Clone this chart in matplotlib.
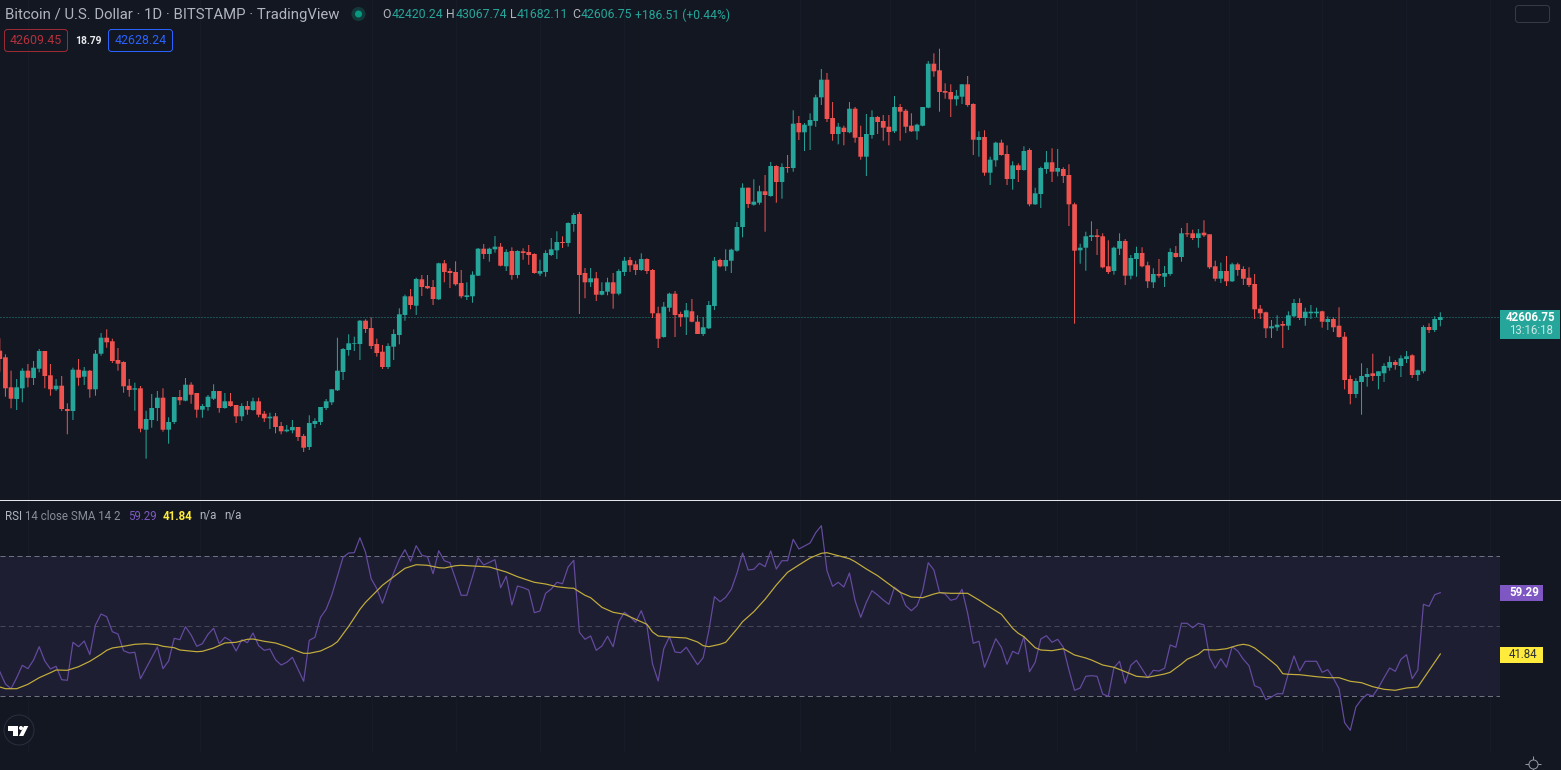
#!/usr/bin/env python3
"""BTC/USD daily candles with an RSI pane, dark theme."""

import numpy as np
import matplotlib
matplotlib.use("Agg")
import matplotlib.pyplot as plt
from matplotlib.patches import FancyBboxPatch, Rectangle, Circle, Polygon

plt.rcParams["font.family"] = ["Roboto", "DejaVu Sans"]

# candles were read as heights on the picture (row numbers), then turned into
# USD with the one price we know for sure (last close) and a rough USD/row
LAST_CLOSE = 42606.75
LAST_ROW = 317.0
USD_PER_ROW = 96.0

direction = ("rrrggrggrr" "grrgrgrggr" "rrrrgrgggr" "ggrgrrgggr" "grrgrgrrgr"
             "rggrrggggg" "gggggrrrrg" "gggrgrrrgr" "rrrgggrggr" "grgrrrgggg"
             "rggrrgrggr" "ggrrgrrrgg" "rrgrrgggrg" "gggrggrgrg" "rgrggggrrg"
             "rgrrggrrrg" "rrrgggrrrr" "ggrrgrggrr" "grgrgggrgr" "rrgggrrrgg"
             "rggrrgrggr" "grrgrrrgrg" "rrrrrrggrg" "grgggrgrrr" "rgggrgggrg"
             "grggrgg")

body_top = [
    350.7, 357.3, 387.3, 387.3, 370.7, 370.7, 367.7, 351, 351, 375.3,
    385.7, 385.7, 409, 369.7, 369.7, 370.7, 370.7, 353.7, 337.7, 337.7,
    341.3, 360, 362, 385.7, 388.3, 388.3, 419, 408, 397.7, 397.7,
    422, 397, 397, 384.7, 384.7, 393, 406, 396.7, 391, 391,
    401.3, 401.3, 405, 406, 406, 401.3, 401.3, 413.7, 416.7, 416.3,
    426, 429.7, 427, 427, 436, 423, 421, 407, 401.3, 389.3,
    370.7, 349, 343.3, 343.3, 320.7, 320.7, 328, 344, 351.7, 346,
    334, 314.3, 296.3, 296.3, 279, 279.3, 286, 287, 263.3, 263.3,
    271, 272, 283, 295.3, 274.7, 248.7, 248.7, 248.7, 246.7, 246.7,
    252, 251, 251, 251.3, 252, 254, 271, 253, 249.3, 242,
    242, 223, 215, 214, 273, 278.3, 278.3, 291, 282.3, 282.3,
    271, 260.7, 260, 264.3, 259, 259, 270, 313.3, 306.7, 293.7,
    293.7, 314, 310.3, 311.3, 321.7, 327.3, 305, 260.7, 260, 260,
    249.7, 227, 187.7, 187.7, 201.7, 191.3, 191.3, 166, 166, 167,
    167, 123.7, 123, 124.7, 120, 97.3, 79.7, 79.7, 118, 126.7,
    127.7, 108.7, 108.7, 137, 134, 117, 117, 121, 126.7, 107,
    107, 110.7, 125.7, 124.7, 107, 63.7, 63.7, 70.3, 91, 92,
    95.7, 84.3, 84.3, 104, 137, 137, 159.7, 142.7, 142.7, 154,
    165.3, 165.3, 151, 150, 193.3, 168, 162.3, 162.3, 168, 169,
    175, 204.3, 247.7, 236.3, 235.3, 235.3, 236.3, 266.3, 247.7, 241,
    241, 258, 253, 253, 265.3, 274, 274, 273, 252, 253,
    233.3, 233.3, 233.3, 233.3, 232.7, 234.3, 266.3, 271, 271, 264.3,
    264.3, 269, 277.7, 284, 308.7, 312.3, 326.3, 324.7, 324, 315.3,
    303, 303, 311.7, 311.7, 311.7, 311.3, 319, 319, 325.7, 336.7,
    379, 381, 376, 374, 373.3, 371.3, 366, 362, 362, 358.3,
    356.3, 355.3, 370.3, 327, 327, 319, 317,
]
body_bottom = [
    359, 388.3, 398.7, 399, 388.3, 377.7, 378, 368.7, 376, 389.3,
    389.3, 409, 411, 411, 377.7, 376.7, 389.3, 389.3, 353.7, 342.3,
    361, 363.7, 386.3, 390, 389.7, 428.7, 429.7, 420, 408, 429.7,
    429.7, 422, 400.3, 400.7, 394.7, 409.7, 409.7, 407, 398.7, 408,
    408, 406, 416.3, 416.3, 409.7, 410, 414.7, 418.3, 418.3, 427,
    431.3, 431.3, 430.3, 437, 447.7, 447, 424, 422, 408, 402.3,
    390.3, 372, 350, 344, 344, 329, 346, 353, 367, 367,
    346.7, 335, 315, 305, 305.7, 287, 288.3, 299, 299.3, 272,
    273, 284.3, 296.3, 297, 296.3, 275.7, 254, 254, 249.3, 265.7,
    266.3, 275, 275, 253, 255, 273, 273.7, 272, 255, 250.3,
    243, 243, 224, 275, 282.3, 282.3, 294.7, 294.7, 291.7, 293.7,
    293.7, 272, 265.3, 270, 270, 271, 313.3, 338.7, 337, 307.7,
    315, 317, 317, 321.7, 334, 334, 328.3, 306, 266.3, 266.3,
    260.7, 250.7, 227, 204, 204.7, 202.7, 195, 196, 182, 182,
    168, 168, 132.3, 132.3, 125.7, 121, 97.3, 119, 134, 134,
    132, 132.3, 137.7, 156.7, 156.7, 135, 122, 127.7, 132, 131.3,
    111.7, 126.7, 131.3, 131.3, 125.7, 107.7, 71.3, 92, 92.7, 99.3,
    99.3, 96.7, 105, 139.7, 140, 172.7, 172.7, 160.3, 155, 179,
    179, 170, 170, 204.3, 204.3, 194, 169, 171.7, 171.7, 176,
    204.3, 250.7, 250.3, 247.7, 237, 237, 267.3, 272, 271, 248.7,
    275.7, 275.7, 259, 266.3, 281.3, 282.3, 275.7, 276.7, 274, 257,
    257, 234.3, 238, 238, 235.3, 267.3, 278.7, 278.7, 281.3, 281.3,
    270, 278.7, 285, 309.3, 313.3, 328.3, 328.3, 327.3, 325.7, 325.7,
    316.3, 318, 318, 313.3, 313.3, 321.7, 322, 327.3, 337, 380,
    394, 394, 382, 377, 376, 376, 373.3, 367.7, 365, 366,
    359, 375, 375, 371.3, 330, 330, 320,
]
wick_top = [
    338.3, 354.3, 370.7, 379, 368.3, 364, 361, 349, 351, 364,
    379, 376, 403.3, 367.7, 359, 367, 370, 350, 333, 329.3,
    338.7, 348, 361.3, 379, 382.7, 386, 410.7, 394, 391, 388.3,
    417.3, 397, 390, 378, 382.3, 393, 404, 395, 384.3, 391,
    393, 393, 405, 403.3, 401, 397.7, 397.7, 411, 412.7, 413,
    422, 425, 420, 427, 434, 415.3, 418.3, 407, 399, 389.3,
    337.7, 348, 334.3, 336.7, 320, 319.3, 317.3, 338.7, 345, 343.3,
    329.3, 308.3, 294.7, 289, 277.7, 275, 275, 280, 262.7, 260,
    268.3, 261.3, 270, 282.3, 271.3, 248, 244, 247.7, 236, 243,
    249.3, 247.3, 250.3, 248.3, 245, 253.3, 259.7, 250.3, 238, 231.3,
    236.3, 222.3, 213, 212, 268, 268, 272, 282.3, 277.7, 273,
    269.3, 257, 257, 260.7, 253.3, 258.3, 269, 306.7, 302, 292.7,
    291, 311.7, 303, 299, 315.3, 317, 301, 257, 258.7, 249.3,
    248.7, 222, 183.3, 187.7, 179.3, 185.7, 175, 162, 165.3, 163.3,
    155, 110.3, 116, 123, 113.3, 94.7, 69, 73, 102, 123,
    125.7, 102, 107, 125.7, 114, 110.3, 116, 115, 115, 96,
    104, 109, 113.3, 123.7, 107, 61, 53.3, 48.7, 83.3, 84.3,
    90, 84.3, 76, 103.3, 131.3, 130.3, 156.7, 141.7, 139.7, 145.3,
    161.3, 163.3, 146.3, 148.3, 187.7, 166.7, 151, 148.3, 149, 167.3,
    164.3, 202.7, 243.7, 231.7, 221.3, 229, 233.3, 240.3, 246.7, 233.3,
    239, 255, 246.7, 247.3, 261.7, 268.3, 259, 266, 248.3, 246,
    228, 223, 229.7, 229, 220.3, 234.3, 260.7, 262.7, 256, 262.7,
    262.7, 266.3, 267.3, 274, 305, 311.7, 320, 315.3, 321, 311.3,
    299, 298.3, 307.7, 305, 307.7, 310.7, 316.3, 317.3, 307.3, 332,
    375.3, 378.3, 363.3, 368, 353.7, 371.3, 363.3, 356.3, 360, 355.3,
    351, 354.3, 369.7, 325.3, 323.3, 316.3, 312.3,
]
wick_bottom = [
    371.7, 396.7, 408.3, 410, 402.3, 387.3, 385, 372.3, 388.3, 395.7,
    391, 411, 434.3, 420, 385.7, 385, 397.7, 395.7, 355.7, 347.7,
    363, 370.7, 392.7, 396.7, 410.7, 432.3, 458.7, 427.7, 421, 431.7,
    443.7, 424, 405, 401.3, 403.7, 417.7, 417.7, 410.7, 400, 412.7,
    408.7, 406.7, 423, 421, 414.7, 410.7, 417.3, 422, 429, 433.3,
    434.3, 432.3, 433.3, 441, 452, 450, 428, 425, 410, 405,
    391, 380, 355.7, 351, 360, 333, 349, 356.7, 369, 369,
    360, 344.3, 320.7, 309.3, 315, 296, 289, 305, 300, 282.3,
    288, 285.7, 298.3, 300, 302.7, 276, 259, 261.7, 252.7, 266.3,
    271, 279.7, 278.3, 259.7, 264.7, 273.7, 276, 276.7, 256, 259,
    248, 246.7, 231.7, 314, 298.3, 287, 301, 295.3, 295.3, 308.7,
    295.3, 276, 272, 275, 271, 274, 318, 348, 337.7, 311.7,
    337, 326.7, 335, 322.3, 334, 336, 329, 310, 267.3, 271,
    273, 251.7, 237.3, 208, 205.7, 204.7, 231.7, 196.7, 202.7, 198.7,
    172.7, 171.7, 140, 151, 150, 126.7, 105, 122, 140.7, 144.3,
    145.3, 133.3, 142.7, 159.7, 176, 138.7, 134, 140.7, 145.3, 133,
    140.7, 133, 132, 139.7, 126.3, 108.3, 76.7, 111.7, 98.7, 117,
    105.7, 104, 106.7, 155, 156.7, 175.7, 185, 166.7, 155.7, 185,
    189.7, 182, 170.7, 206.3, 205, 208, 173.7, 182, 176.3, 183,
    226, 323.7, 263.7, 270.7, 241, 255, 268.3, 274, 274.7, 255,
    285, 279.3, 276.7, 267.3, 288, 288, 277.7, 287, 275.7, 257.7,
    261.7, 237, 240, 247.7, 237, 269, 281.3, 283, 286, 282,
    275.7, 285, 287, 319, 319, 338, 338, 331, 348, 330,
    317.3, 320, 325.7, 319, 317.3, 327.7, 330, 332, 337.7, 389.3,
    404.3, 398, 414.7, 386.7, 381, 389.3, 382, 370.7, 369.7, 377,
    363, 378, 381, 373.3, 333, 332, 326.3,
]

# RSI line, one reading per candle (row numbers again)
rsi_rows = [
    671.7, 684, 688.7, 677.7, 665.3, 668.7, 660, 646.7, 661, 669,
    666.3, 679.7, 680.3, 642.3, 646.7, 641, 654.7, 625, 614, 616.7,
    631.7, 634, 650.7, 653, 652.3, 678.7, 668.3, 657.7, 647, 668.7,
    661, 638.3, 639.7, 626.7, 635, 646.3, 643.7, 634.3, 628.3, 643.7,
    637.3, 640.7, 651, 639.7, 642.7, 633, 645.7, 650.3, 649, 659.7,
    665, 662.3, 657.3, 669.3, 681.3, 640.3, 637.3, 617.3, 609.3, 595,
    576, 557.3, 553, 552.7, 537.7, 552.3, 578.7, 588.7, 603.3, 587.3,
    573, 559.3, 549.7, 561.3, 545.7, 555.3, 556.7, 573.7, 550.7, 560.7,
    562.7, 579, 595.3, 595.3, 576.7, 557.7, 565, 562.3, 559.7, 587.7,
    576.3, 605, 586,
    587.7, 590, 612.7, 611, 593.3, 589, 582.3, 583.7, 567, 560.3,
    632.3, 639.3, 636, 650.3, 646, 636.3, 646.7, 621.7, 612.3, 616.7,
    622.3, 610.7, 625.7, 664, 681, 648.7, 636.7, 652, 652.7, 647.3,
    656, 664.7, 657.7, 630.7, 596.7, 601.7, 597.3, 589.3, 573.3, 553,
    570, 569.3, 563.3, 566.7, 551, 569, 560.7, 560.7, 539.3, 549,
    546, 543, 532.7, 525.7, 570.7, 586.3, 582.3, 587, 573, 600.7,
    617.3, 602.3, 590.7, 595, 600, 604.3, 587.3, 591.7, 605.7, 610.7,
    605.7, 591, 562.7, 570, 592.3, 594, 600.3, 598.7, 589.3, 613.3,
    643.3, 641.3, 667.3, 653.3, 638.7, 647.3,
    664.3, 651.3, 654, 636.7, 671.7, 662.3, 639, 635.7, 642.3, 639.3,
    647.3, 670, 690.3, 688, 676.3, 675.7, 676.3, 694, 696.3, 667.7,
    661.3, 683.3, 665.3, 660.3, 669, 677.7, 670.3, 671, 668.3, 645,
    647.3, 623.3, 623.3, 627.7, 623.3, 625, 657.7, 668.3, 658.7, 667.3,
    646.7, 651, 659.3, 665.7, 685.7, 688, 699.7, 697, 693.7, 693.7,
    673.3, 656, 671, 661.3, 661.3, 661.3, 672.3, 669.7, 678.3, 688.7,
    722.7, 730.3, 707, 699.3, 694.3, 696, 687.7, 677.7, 668, 671.3,
    659.3, 654.7, 678.7, 670, 604.3, 606.3, 594.7, 592.7,
]

# SMA line, read at the bends only
sma_index = [
    0, 1, 3, 5, 7, 9, 10, 12, 14, 16, 18, 19, 20, 22, 24, 26, 28, 29, 31, 32,
    35, 36, 38, 40, 42, 44, 45, 47, 49, 51, 53, 54, 55, 57, 59, 60, 62, 64, 65,
    68, 70, 72, 74, 76, 78, 79, 81, 82, 84, 86, 87, 88,
    90, 92, 95, 97, 99, 101, 102, 104, 105, 107, 109, 111, 113, 115, 116, 117,
    119, 122, 124, 125, 126, 128, 129, 131, 132, 134, 136, 138, 140, 142, 144,
    146, 147, 149, 151, 152, 154, 156, 158, 160, 162, 164, 166, 167, 169, 171,
    172, 174, 176, 178, 180, 181,
    182, 184, 185, 187, 189, 191, 193, 194, 196, 198, 200, 202, 204, 207, 208,
    210, 211, 213, 214, 216, 218, 220, 221, 222, 223, 225, 227, 228, 229, 231,
    234, 236, 238, 240, 242, 244, 246, 248, 250, 252, 256,
]
sma_rows = [
    687, 688.7, 688.7, 684.3, 677.7, 672.7, 670, 670.3, 666.7, 661.3, 654.3,
    650.3, 648, 646.3, 644.3, 643.7, 644.7, 646.3, 647.7, 650,
    651.7, 651.3, 648, 643, 642.3, 639.3, 639, 641.3, 643, 646.7, 651.3, 653.3,
    653.3, 651, 645.7, 641.7, 626.3, 609.3, 602.3,
    585.3, 576.7, 568.3, 564.7, 565.3, 567.7, 568, 565.7, 565.3, 566, 566.7,
    567, 568.7,
    572, 576.7, 582.3, 584, 586.7, 588, 588.3, 595.3, 597.7, 607.3, 612.3,
    614.3, 619.3, 624.3, 632, 636,
    637, 638, 642, 645.7, 646.7, 644.3, 642.3, 629, 621.7, 611.7, 599.3, 585,
    572.3, 565, 558,
    553.3, 552.7, 555.7, 558.7, 561.7, 569, 575.7, 584, 592.3, 597, 597.7, 594,
    592.7, 593.3, 593.3,
    593.3, 600, 607.3, 614.3, 628.3, 633.3,
    636.7, 647.7, 650, 650.7, 648.7, 655, 658, 660, 665, 667.3, 671.7, 676.3,
    677.3, 674, 672.3,
    664, 659.3, 654.3, 649.7, 650, 648.7, 645.3, 644.3, 645.3, 648, 656.7, 666,
    673.7, 674.3, 674.7,
    676.7, 677.7, 677.7, 681.3, 682.7, 686.7, 689.3, 690.3, 688, 687, 654,
]

rsi_levels = [30, 50, 70]
grid_px = [28, 200, 372, 456, 540, 624, 800, 890, 975, 1057, 1136, 1229, 1322, 1406, 1490]

BG = "#131722"
UP = "#26a69a"
DOWN = "#ef5350"
PX = 0.72  # 1 px in points at dpi 100
CANDLE_STEP = 5.627


def row_to_price(rows):
    return LAST_CLOSE + (LAST_ROW - np.asarray(rows, dtype=float)) * USD_PER_ROW


def row_to_rsi(rows):
    return 50 + (626.0 - np.asarray(rows, dtype=float)) * 20 / 70.3


x = np.arange(len(direction))
is_up = np.array([d == "g" for d in direction])
colors = np.where(is_up, UP, DOWN)

fig = plt.figure(figsize=(15.61, 7.70), dpi=100, facecolor=BG)
W, H = 1561.0, 770.0
xlim = (0.2 / CANDLE_STEP, 1500.2 / CANDLE_STEP)

# ── price pane ──
ax = fig.add_axes([0, 270 / H, 1500 / W, 500 / H], facecolor=BG)
ax.set_xlim(*xlim)
ax.set_ylim(row_to_price(500), row_to_price(0))
ax.axis("off")
for g in grid_px:
    ax.axvline((g + 0.2) / CANDLE_STEP, color="#171b27", lw=PX, zorder=0)
ax.axhline(LAST_CLOSE, color=UP, lw=PX, ls=(0, (1, 2)), alpha=0.8, zorder=1)

top = row_to_price(body_top)
bottom = row_to_price(body_bottom)
wicks = ax.vlines(x, row_to_price(wick_bottom), row_to_price(wick_top),
                  colors=colors, lw=PX, zorder=2)
wicks.set_snap(False)
bars = ax.bar(x, top - bottom, bottom=bottom, width=0.84, color=colors, linewidth=0, zorder=3)
for b in bars:
    b.set_snap(False)

# ── RSI pane ──
ax2 = fig.add_axes([0, 0, 1500 / W, 270 / H], facecolor=BG)
ax2.set_xlim(*xlim)
ax2.set_ylim(row_to_rsi(770), row_to_rsi(500))
ax2.axis("off")
for g in grid_px:
    ax2.plot([(g + 0.2) / CANDLE_STEP] * 2, [row_to_rsi(751), row_to_rsi(500)],
             color="#171b27", lw=PX, zorder=0)
ax2.axhspan(rsi_levels[0], rsi_levels[2], facecolor="#1e1e33", edgecolor="none", zorder=1)
ax2.axhline(rsi_levels[0], color="#6f7080", lw=PX, ls=(0, (5, 3.5)), zorder=2)
ax2.axhline(rsi_levels[1], color="#474857", lw=PX, ls=(0, (5, 3.5)), zorder=2)
ax2.axhline(rsi_levels[2], color="#6f7080", lw=PX, ls=(0, (5, 3.5)), zorder=2)
ax2.plot(x, row_to_rsi(rsi_rows), color="#654ba0", lw=1.2 * PX, zorder=3)
ax2.plot(sma_index, row_to_rsi(sma_rows), color="#c3ae3c", lw=1.2 * PX, zorder=4)

# ── everything drawn on top, in picture pixels ──
ui = fig.add_axes([0, 0, 1, 1], facecolor="none")
ui.set_xlim(0, W)
ui.set_ylim(H, 0)
ui.axis("off")

ui.axhline(500.0, color="#e4e5e8", lw=PX)

GREY = "#b2b5be"
ui.text(5, 14.5, "Bitcoin / U.S. Dollar · 1D · BITSTAMP · TradingView", color=GREY,
        fontsize=10.7, va="center")
ui.add_patch(Circle((358.5, 14), 7, color="#133a3a", lw=0))
ui.add_patch(Circle((358.5, 14), 3.5, color="#089981", lw=0))

for lab, lx, val, vx in [("O", 382, "42420.24", 392), ("H", 446, "43067.74", 456),
                         ("L", 510, "41682.11", 517), ("C", 572, "42606.75", 581)]:
    ui.text(lx, 15, lab, color=GREY, fontsize=8.8, va="center")
    ui.text(vx, 15, val, color=UP, fontsize=8.8, va="center")
ui.text(635, 15, "+186.51 (+0.44%)", color=UP, fontsize=8.7, va="center")

ui.add_patch(FancyBboxPatch((4.5, 29.5), 63, 22, boxstyle="round,pad=0,rounding_size=3",
                            fc="none", ec="#9c2a35", lw=PX))
ui.text(36, 40.5, "42609.45", color="#b3313c", fontsize=8.9, ha="center", va="center")
ui.text(88, 40.5, "18.79", color="#e8e9ec", fontsize=7.4, ha="center", va="center", weight="bold")
ui.add_patch(FancyBboxPatch((108.5, 29.5), 64, 22, boxstyle="round,pad=0,rounding_size=3",
                            fc="none", ec="#2962ff", lw=PX))
ui.text(140.5, 40.5, "42628.24", color="#2962ff", fontsize=8.9, ha="center", va="center")

ui.add_patch(FancyBboxPatch((1515.5, 5.5), 34, 17, boxstyle="round,pad=0,rounding_size=3",
                            fc="none", ec="#363a45", lw=PX))

# last price tag
ui.add_patch(Rectangle((1500, 310), 60, 29, color=UP, lw=0))
ui.text(1555, 317.5, "42606.75", color="white", fontsize=8.3, ha="right", va="center", weight="bold")
ui.text(1552.5, 331, "13:16:18", color="#c8e8e5", fontsize=8.3, ha="right", va="center")

# RSI legend
ui.text(5, 516, "RSI", color=GREY, fontsize=8.3, va="center")
ui.text(25, 516, "14 close SMA 14 2", color="#8a8d97", fontsize=8.3, va="center")
ui.text(128, 516, "59.29", color="#7e57c2", fontsize=8.3, va="center")
ui.text(163, 516, "41.84", color="#ffeb3b", fontsize=8.3, va="center", weight="bold")
ui.text(199, 516, "n/a", color=GREY, fontsize=8.3, va="center")
ui.text(224, 516, "n/a", color=GREY, fontsize=8.3, va="center")

# RSI tags
ui.add_patch(Rectangle((1500, 585), 43, 16, color="#7e57c2", lw=0))
ui.text(1509, 593, "59.29", color="white", fontsize=8.3, va="center", weight="bold")
ui.add_patch(Rectangle((1500, 647), 43, 16, color="#ffeb3b", lw=0))
ui.text(1509, 655, "41.84", color="#2a2e39", fontsize=8.3, va="center")

# logo
ui.add_patch(Circle((19, 730), 15, fc="#131722", ec="#2a2e3e", lw=PX))
ui.add_patch(Polygon([(8.3, 726), (18.3, 726), (18.3, 736), (13.3, 736), (13.3, 731), (8.3, 731)],
                     fc="white", lw=0))
ui.add_patch(Circle((21, 728), 2, fc="white", lw=0))
ui.add_patch(Polygon([(24, 726), (28.3, 726), (23.3, 736), (19, 736)], fc="white", lw=0))

# settings gear
ui.plot([1533], [763.5], marker="+", ms=11, mec="#9598a1", mew=PX)
ui.plot([1533], [763.5], marker="o", ms=6.5, mfc=BG, mec="#9598a1", mew=PX)

fig.savefig("out.png", dpi=100, facecolor=BG)
plt.close(fig)
